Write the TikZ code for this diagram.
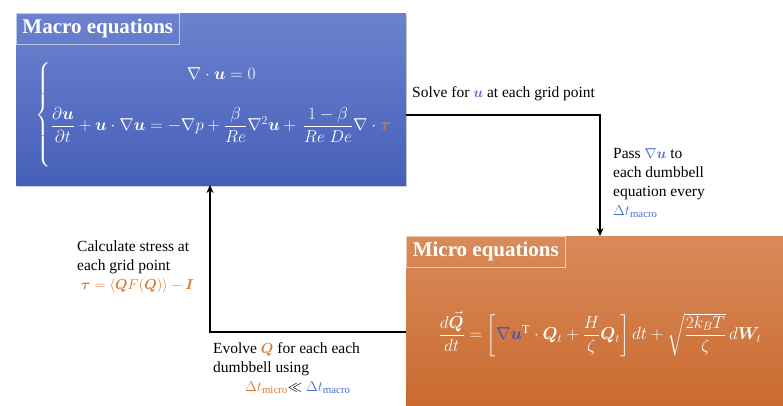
\documentclass[tikz,border=0pt]{standalone}
\usepackage{amsmath,amssymb,bm}
\usepackage{fontspec}
\setmainfont{Liberation Serif}
\usetikzlibrary{arrows.meta,shadows}
\definecolor{macrotop}{HTML}{6C82CE}
\definecolor{macrobot}{HTML}{4660B9}
\definecolor{microtop}{HTML}{D98B5A}
\definecolor{microbot}{HTML}{C8662B}
\definecolor{ublue}{HTML}{4A6FCF}
\definecolor{gradblue}{HTML}{3B52B0}
\definecolor{qorange}{HTML}{D9782E}

\begin{document}
\begin{tikzpicture}[x=1pt, y=-1pt, every node/.style={font=\fontsize{15.5}{19}\selectfont},
	eqbox/.style={anchor=north west, inner sep=0pt, outer sep=0pt, drop shadow={opacity=0.35, shadow xshift=1pt, shadow yshift=-1.5pt}},
	titlebox/.style={draw=white!55!#1, line width=0.6pt, anchor=north west, text=white, minimum height=31pt, font=\fontsize{21}{24}\selectfont\bfseries},
	eqtext/.style={text=white, font=\fontsize{17.5}{20}\selectfont},
	note/.style={anchor=north west, align=left, inner sep=0pt},
	flow/.style={line width=1.6pt, -{Stealth[length=8pt, width=7pt]}}]
	\useasboundingbox (0,0) rectangle (783,405);
	\clip (0,0) rectangle (783,405);
	% the two equation boxes
	\node[eqbox, top color=macrotop, bottom color=macrobot, minimum width=390pt, minimum height=172pt] (macro) at (16,13) {};
	\node[titlebox=macrotop, minimum width=163pt] (macrotitle) at (16,13) {Macro equations};
	\node[eqbox, top color=microtop, bottom color=microbot, minimum width=400pt, minimum height=190pt] (micro) at (406,236) {};
	\node[titlebox=microtop, minimum width=159pt] (microtitle) at (406,236) {Micro equations};
	\node[eqtext] (macroeq) at (214,115) {$\left\{\begin{array}{@{}c@{}}
		\nabla\cdot\bm{u}=0\\[22pt]
		\dfrac{\partial\bm{u}}{\partial t}+\bm{u}\cdot\nabla\bm{u}=-\nabla p+\dfrac{\beta}{Re}\nabla^2\bm{u}+\,\dfrac{1-\beta}{Re\;De}\nabla\cdot\textcolor{qorange}{\bm{\tau}}\rule[-34pt]{0pt}{0pt}
		\end{array}\right.$};
	\node[eqtext] (microeq) at (600,334) {$\dfrac{d\vec{\bm{Q}}}{dt}=\left[\textcolor{gradblue}{\nabla\bm{u}}^{\mathrm{T}}\cdot\bm{Q}_t+\dfrac{H}{\zeta}\bm{Q}_t\right]dt+\sqrt{\dfrac{2k_BT}{\zeta}}\,d\bm{W}_t$};
	% connectors
	\draw[flow] ([yshift=-16pt]macro.east) -| ([xshift=-6pt]micro.north);
	\draw[flow] ([yshift=-1pt]micro.west) -| ([xshift=-1pt]macro.south);
	% labels
	\node[note] (solve) at (412,86) {Solve for \textcolor{ublue}{$\bm{u}$} at each grid point};
	\node[note] (pass) at (613,148) {Pass \textcolor{ublue}{$\nabla\bm{u}$} to\\each dumbbell\\equation every\\\textcolor{ublue}{$\Delta t_{\mathrm{macro}}$}};
	\node[note] (stress) at (77,241) {Calculate stress at\\each grid point\\\hspace{4pt}\textcolor{qorange}{$\bm{\tau}=\langle\bm{Q}F(\bm{Q})\rangle-\bm{I}$}};
	\node[note] (evolve) at (213,342) {Evolve \textcolor{qorange}{$\bm{Q}$} for each each\\dumbbell using\\\hspace{32pt}\textcolor{qorange}{$\Delta t_{\mathrm{micro}}$}$\ll$ \textcolor{ublue}{$\Delta t_{\mathrm{macro}}$}};
\end{tikzpicture}
\end{document}
